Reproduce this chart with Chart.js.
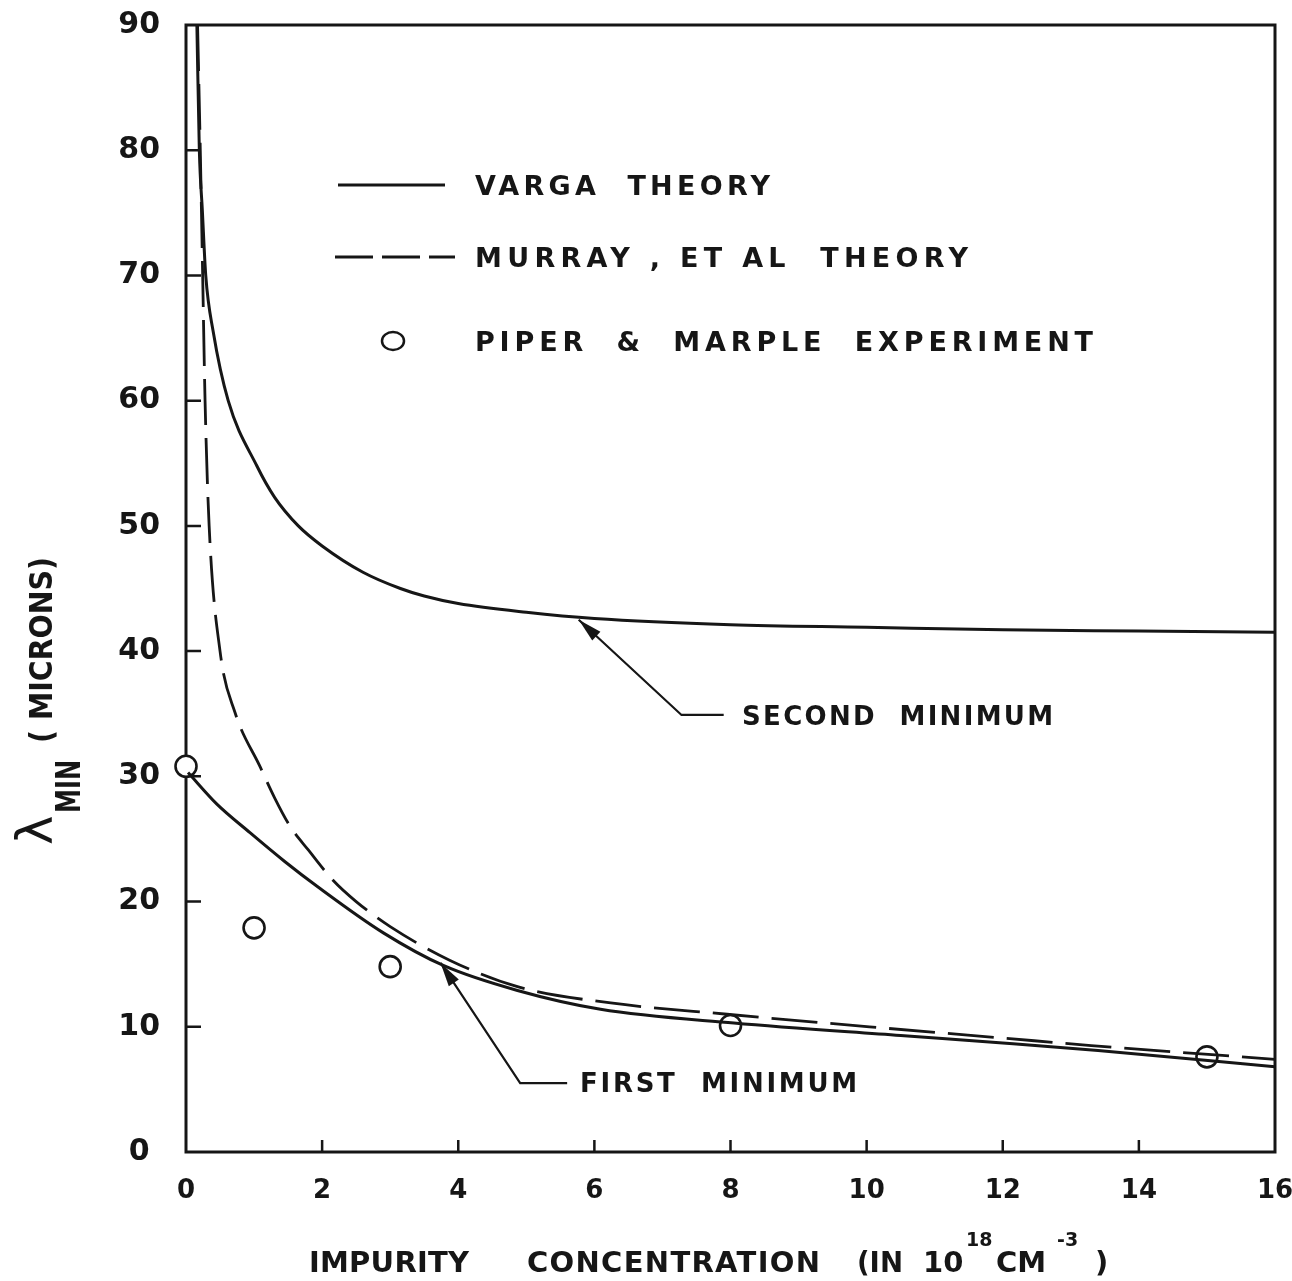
<!DOCTYPE html>
<html>
<head>
<meta charset="utf-8">
<script src="https://cdn.jsdelivr.net/npm/chart.js@4.4.1/dist/chart.umd.min.js"></script>
<style>
  html, body { margin: 0; padding: 0; background: #fff; }
  #wrap { width: 1292px; height: 1281px; }
</style>
</head>
<body>
<div id="wrap"><canvas id="lambdaChart" width="1292" height="1281"></canvas></div>
<script>
const INK = '#161616';
const FONT = '"DejaVu Sans", "Liberation Sans", sans-serif';

// impurity concentration (10^18 cm^-3) -> lambda min (microns)
const vargaSecondX = [0.16, 0.196, 0.24, 0.29, 0.40, 0.62, 1.04, 1.30, 1.65, 2.0, 2.6, 3.15, 3.5, 4.0, 5.0, 6.0, 8.0, 10.0, 12.0, 14.0, 16.0];
const vargaSecondY = [90, 80, 75.2, 70, 65.5, 60, 54.8, 52.3, 50, 48.4, 46.3, 45.0, 44.4, 43.8, 43.1, 42.6, 42.1, 41.9, 41.7, 41.6, 41.5];

const vargaFirstX = [0.03, 0.45, 0.94, 1.45, 1.93, 2.90, 3.78, 4.87, 6.09, 8.05, 10.5, 12.0, 13.4, 16.0];
const vargaFirstY = [30.3, 27.8, 25.5, 23.2, 21.2, 17.5, 14.9, 12.9, 11.4, 10.3, 9.3, 8.7, 8.1, 6.8];

const murrayX = [0.17, 0.21, 0.245, 0.28, 0.34, 0.50, 0.72, 1.09, 1.30, 1.53, 1.80, 2.16, 2.50, 3.00, 3.88, 4.87, 6.24, 7.95, 10.25, 12.0, 13.3, 16.0];
const murrayY = [90, 80, 70, 60, 50, 40, 35.1, 30.75, 28.3, 26.0, 24.1, 21.7, 20.0, 18.0, 15.3, 13.2, 11.9, 11.0, 9.9, 9.1, 8.5, 7.4];

const piperX = [0, 1, 3, 8, 15];
const piperY = [30.8, 17.9, 14.8, 10.1, 7.6];

const xTicks = [0, 2, 4, 6, 8, 10, 12, 14, 16];
const yTicks = [0, 10, 20, 30, 40, 50, 60, 70, 80, 90];

const legendLabels = ['VARGA  THEORY', 'MURRAY , ET AL  THEORY', 'PIPER  &  MARPLE  EXPERIMENT'];
const noteLabels = ['SECOND  MINIMUM', 'FIRST  MINIMUM'];

const pts = (xs, ys) => xs.map((v, i) => ({ x: v, y: ys[i] }));

// stretch a label to a given width (letter spacing), or squeeze it when too wide
function spacedText(ctx, text, x, y, width) {
    ctx.letterSpacing = '0px';
    const w = ctx.measureText(text).width;
    if (w >= width || text.length < 2) {
        ctx.save();
        ctx.translate(x, y);
        ctx.scale(width / w, 1);
        ctx.fillText(text, 0, 0);
        ctx.restore();
    } else {
        ctx.letterSpacing = ((width - w) / (text.length - 1)) + 'px';
        ctx.fillText(text, x, y);
        ctx.letterSpacing = '0px';
    }
}

function arrowPath(ctx, p) {
    // p[0] is the tip, the leader runs back through the elbow to the label
    ctx.beginPath();
    ctx.moveTo(p[2][0], p[2][1]);
    ctx.lineTo(p[1][0], p[1][1]);
    ctx.lineTo(p[0][0], p[0][1]);
    ctx.stroke();
    const ang = Math.atan2(p[0][1] - p[1][1], p[0][0] - p[1][0]);
    const len = 24, half = 6;
    const bx = p[0][0] - Math.cos(ang) * len, by = p[0][1] - Math.sin(ang) * len;
    ctx.beginPath();
    ctx.moveTo(p[0][0], p[0][1]);
    ctx.lineTo(bx + Math.sin(ang) * half, by - Math.cos(ang) * half);
    ctx.lineTo(bx - Math.sin(ang) * half, by + Math.cos(ang) * half);
    ctx.closePath();
    ctx.fill();
}

const frameLine = {
    id: 'frameLine',
    beforeDatasetsDraw(chart) {
        const { ctx, chartArea: a, scales: { x, y } } = chart;
        ctx.save();
        ctx.strokeStyle = INK;
        ctx.lineWidth = 3;
        ctx.strokeRect(a.left, a.top, a.right - a.left, a.bottom - a.top);
        ctx.lineWidth = 2.5;
        ctx.beginPath();
        yTicks.slice(1, -1).forEach(v => {
            const py = y.getPixelForValue(v);
            ctx.moveTo(a.left, py);
            ctx.lineTo(a.left + 15, py);
        });
        xTicks.slice(1, -1).forEach(v => {
            const px = x.getPixelForValue(v);
            ctx.moveTo(px, a.bottom);
            ctx.lineTo(px, a.bottom - 12);
        });
        ctx.stroke();
        ctx.restore();
    }
};

const notes = {
    id: 'notes',
    afterDatasetsDraw(chart) {
        const { ctx, chartArea: a, scales: { x, y } } = chart;
        ctx.save();
        ctx.fillStyle = INK;
        ctx.strokeStyle = INK;
        ctx.textBaseline = 'alphabetic';

        // legend block
        const rows = [a.top + 160, a.top + 232, a.top + 316];
        const widths = [295, 493, 618];
        ctx.lineWidth = 3;
        ctx.beginPath();
        ctx.moveTo(a.left + 152, rows[0]);
        ctx.lineTo(a.left + 259, rows[0]);
        ctx.stroke();
        ctx.setLineDash([38, 9]);
        ctx.beginPath();
        ctx.moveTo(a.left + 149, rows[1]);
        ctx.lineTo(a.left + 269, rows[1]);
        ctx.stroke();
        ctx.setLineDash([]);
        ctx.lineWidth = 2.5;
        ctx.beginPath();
        ctx.ellipse(a.left + 207, rows[2], 11, 9, 0, 0, Math.PI * 2);
        ctx.stroke();

        ctx.font = 'bold 27px ' + FONT;
        legendLabels.forEach((t, i) => spacedText(ctx, t, a.left + 289, rows[i] + 10, widths[i]));

        // leaders to the two minima
        ctx.lineWidth = 2.2;
        const P = (vx, vy) => [x.getPixelForValue(vx), y.getPixelForValue(vy)];
        arrowPath(ctx, [P(5.77, 42.5), P(7.28, 34.9), P(7.9, 34.9)]);
        arrowPath(ctx, [P(3.74, 15.1), P(4.91, 5.5), P(5.6, 5.5)]);

        ctx.font = 'bold 26px ' + FONT;
        const s = P(8.17, 34.9), f = P(5.79, 5.6);
        spacedText(ctx, noteLabels[0], s[0], s[1] + 10, 311);
        spacedText(ctx, noteLabels[1], f[0], f[1] + 10, 277);
        ctx.restore();
    }
};

const axisTitles = {
    id: 'axisTitles',
    afterDraw(chart) {
        const { ctx, chartArea: a } = chart;
        ctx.save();
        ctx.fillStyle = INK;
        ctx.textBaseline = 'alphabetic';

        // x title, with superscript exponents
        const base = 1272, sup = 1246, L = a.left;
        ctx.font = 'bold 29px ' + FONT;
        spacedText(ctx, 'IMPURITY', L + 123, base, 160);
        spacedText(ctx, 'CONCENTRATION', L + 341, base, 293);
        spacedText(ctx, '(IN', L + 671, base, 46);
        ctx.fillText('10', L + 737, base);
        ctx.fillText('CM', L + 810, base);
        ctx.fillText(')', L + 909, base);
        ctx.font = 'bold 19px ' + FONT;
        ctx.fillText('18', L + 780, sup);
        ctx.fillText('-3', L + 871, sup);

        // y title, rotated: lambda with MIN subscript and (MICRONS)
        ctx.rotate(-Math.PI / 2);
        ctx.font = '50px ' + FONT;
        ctx.fillText('λ', -845, 52);
        ctx.font = 'bold 34px ' + FONT;
        spacedText(ctx, 'MIN', -813, 80, 53);
        ctx.font = 'bold 32px ' + FONT;
        spacedText(ctx, '( MICRONS)', -743, 52, 186);
        ctx.restore();
    }
};

const lineStyle = {
    showLine: true,
    pointRadius: 0,
    borderColor: INK,
    borderWidth: 3,
    cubicInterpolationMode: 'monotone',
    fill: false
};

new Chart(document.getElementById('lambdaChart'), {
    type: 'scatter',
    data: {
        datasets: [
            { ...lineStyle, label: 'Varga theory (second minimum)', data: pts(vargaSecondX, vargaSecondY) },
            { ...lineStyle, label: 'Varga theory (first minimum)', data: pts(vargaFirstX, vargaFirstY) },
            { ...lineStyle, label: 'Murray, et al theory', data: pts(murrayX, murrayY), borderDash: [46, 13], borderWidth: 2.8 },
            {
                label: 'Piper & Marple experiment',
                data: pts(piperX, piperY),
                showLine: false,
                pointRadius: 10.5,
                pointBorderWidth: 2.6,
                pointBorderColor: INK,
                pointBackgroundColor: '#fff',
                clip: false
            }
        ]
    },
    options: {
        responsive: false,
        animation: false,
        layout: { padding: { top: 25, right: 17, left: 0, bottom: 0 } },
        plugins: { legend: { display: false }, tooltip: { enabled: false } },
        scales: {
            x: {
                type: 'linear',
                min: 0, max: 16,
                afterBuildTicks: s => { s.ticks = xTicks.map(v => ({ value: v })); },
                afterFit: s => { s.height = 129; s.paddingLeft = 0; s.paddingRight = 0; },
                grid: { display: false, drawTicks: false },
                border: { display: false },
                ticks: { color: INK, padding: 24, maxRotation: 0, font: { family: FONT, size: 26, weight: 'bold' } }
            },
            y: {
                type: 'linear',
                min: 0, max: 90,
                afterBuildTicks: s => { s.ticks = yTicks.map(v => ({ value: v })); },
                afterFit: s => { s.width = 186; s.paddingTop = 0; s.paddingBottom = 0; },
                grid: { display: false, drawTicks: false },
                border: { display: false },
                ticks: { color: INK, padding: 26, crossAlign: 'center', font: { family: FONT, size: 30, weight: 'bold' } }
            }
        }
    },
    plugins: [frameLine, notes, axisTitles]
});
</script>
</body>
</html>
